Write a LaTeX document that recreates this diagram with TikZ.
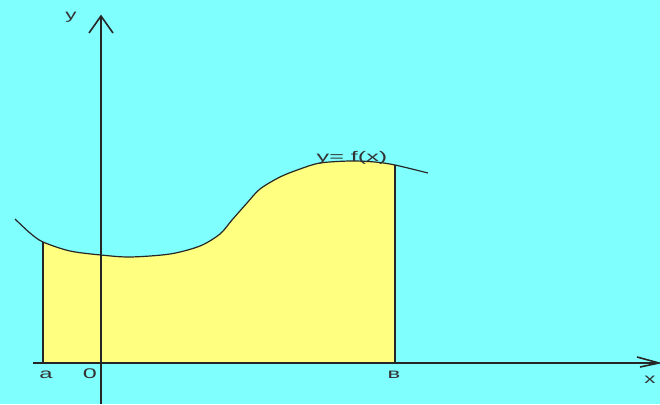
\documentclass[tikz,border=0pt]{standalone}
\usepackage{fontspec}
\setmainfont{Liberation Sans}
\begin{document}
\begin{tikzpicture}[x=1pt,y=-1pt,
  axis/.style={line width=1.6pt,draw=black!85},
  curveline/.style={line width=1.2pt,draw=black!85},
  edge/.style={line width=1.6pt,draw=black!85},
  lbl/.style={inner sep=0pt,font=\fontsize{14}{16}\selectfont,text=black!80}]
\definecolor{bgc}{HTML}{80FFFF}
\definecolor{fillc}{HTML}{FFFF80}
\fill[bgc] (0,0) rectangle (660,404);
\useasboundingbox (0,0) rectangle (660,404);
\def\curvepts{(15,219) (30,233) (43,242) (70,251) (101,255) (130,257) (170,254) (200,246) (220,234) (232,220) (247,203) (260,189) (280,177) (300,169) (320,163) (350,161) (375,162) (395,165) (428,173)}
\begin{scope}
  \clip (43,0) rectangle (395,363);
  \fill[fillc] plot[smooth,tension=0.5] coordinates {\curvepts} -- (428,363) -- (15,363) -- cycle;
\end{scope}
\draw[curveline] plot[smooth,tension=0.5] coordinates {\curvepts};
% coordinates
\coordinate (xs) at (33,363);
\coordinate (xe) at (659,363);
\coordinate (xa1) at (637,357);
\coordinate (xa2) at (640,367);
\coordinate (ys) at (101,404);
\coordinate (ye) at (101,16);
\coordinate (ya1) at (89,33);
\coordinate (ya2) at (113,33);
\coordinate (A) at (43,363);
\coordinate (Atop) at (43,242);
\coordinate (B) at (395,363);
\coordinate (Btop) at (395,165);
% verticals
\draw[edge] (A) -- (Atop);
\draw[edge] (B) -- (Btop);
% axes
\draw[axis] (xs) -- (xe);
\draw[axis] (xa1) -- (xe) -- (xa2);
\draw[axis] (ys) -- (ye);
\draw[axis] (ya1) -- (ye) -- (ya2);
% labels
\node[lbl,anchor=base] (ly) at (71,20) {\scalebox{1.6}[1]{y}};
\node[lbl,anchor=base] (la) at (46,378) {\scalebox{1.7}[1]{a}};
\node[lbl,anchor=base] (l0) at (90,378) {\scalebox{1.8}[1]{0}};
\node[lbl,anchor=base] (lb) at (394,378) {\scalebox{1.7}[1]{в}};
\node[lbl,anchor=base] (lx) at (650,383) {\scalebox{1.6}[1]{x}};
\node[lbl,anchor=base] (lf) at (352,161) {\scalebox{1.8}[1]{y= f(x)}};
\end{tikzpicture}
\end{document}
